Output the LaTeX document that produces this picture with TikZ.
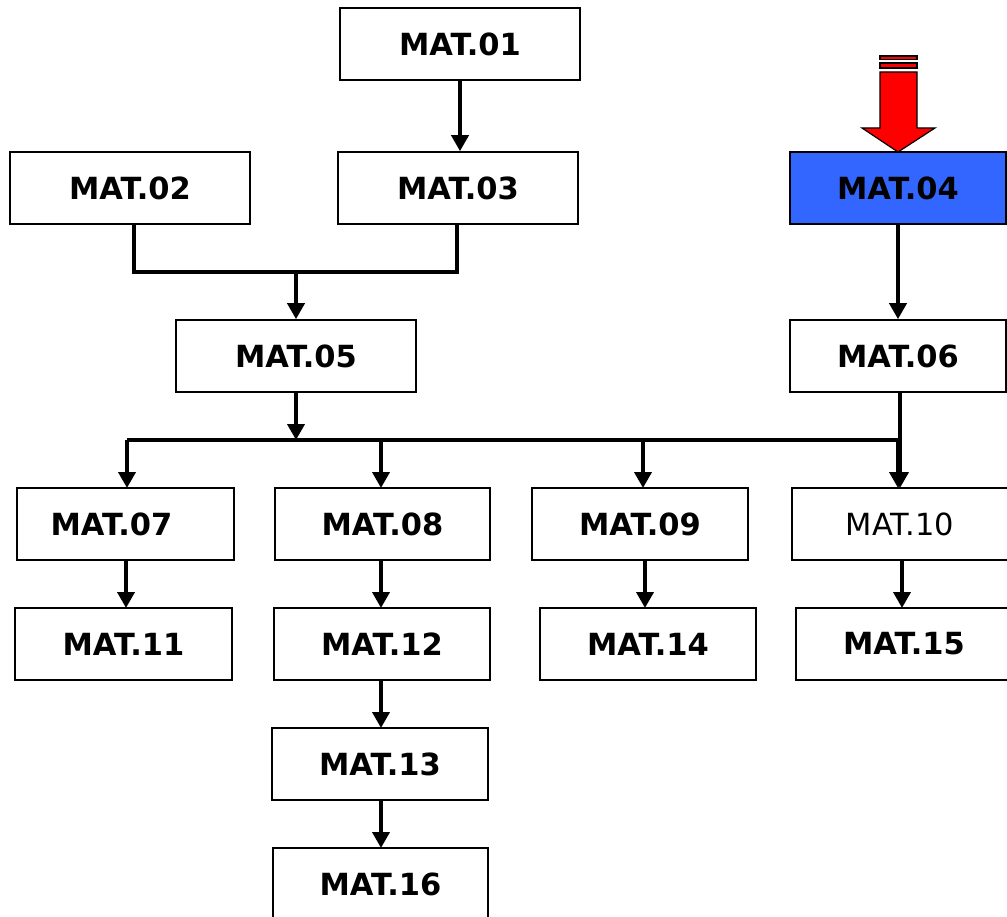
\documentclass[tikz,border=0pt]{standalone}
\usepackage{fontspec}
\setmainfont{DejaVu Sans}
\usetikzlibrary{arrows.meta}
\definecolor{boxblue}{HTML}{3366FF}
\begin{document}
\begin{tikzpicture}[x=1pt,y=-1pt,
  mbox/.style={draw, line width=1.6pt, minimum height=72pt, inner sep=0pt, font=\fontsize{30.5}{32}\selectfont\bfseries},
  conn/.style={line width=3.8pt},
  arr/.style={conn, -{Triangle[width=17pt,length=16pt]}},
  redarrow/.style={fill=red, draw=black, line width=1.2pt}]
\useasboundingbox (0,0) rectangle (1007,917);
\node[mbox, minimum width=240pt] (m01) at (460,44) {MAT.01};
\node[mbox, minimum width=240pt] (m02) at (130,188) {MAT.02};
\node[mbox, minimum width=240pt] (m03) at (458,188) {MAT.03};
\node[mbox, minimum width=216pt, fill=boxblue] (m04) at (898,188) {MAT.04};
\node[mbox, minimum width=240pt] (m05) at (296,356) {MAT.05};
\node[mbox, minimum width=216pt] (m06) at (898,356) {MAT.06};
\node[mbox, minimum width=217pt] (m07) at (125.5,524) {\hspace*{-28pt}MAT.07};
\node[mbox, minimum width=215pt] (m08) at (382.5,524) {MAT.08};
\node[mbox, minimum width=216pt] (m09) at (640,524) {MAT.09};
\node[mbox, minimum width=216pt, font=\fontsize{30.5}{32}\selectfont] (m10) at (900,524) {MAT.10};
\node[mbox, minimum width=217pt] (m11) at (123.5,644) {MAT.11};
\node[mbox, minimum width=216pt] (m12) at (382,644) {MAT.12};
\node[mbox, minimum width=216pt] (m14) at (648,644) {MAT.14};
\node[mbox, minimum width=216pt] (m15) at (904,644) {MAT.15};
\node[mbox, minimum width=216pt] (m13) at (380,764) {MAT.13};
\node[mbox, minimum width=215pt] (m16) at (380.5,884) {MAT.16};
% connectors
\coordinate (j1) at (296,272);
\coordinate (bus) at (296,440);
\draw[arr] (m01.south) -- (m01.south |- m03.north);
\draw[conn] (134,224) |- (j1) -| (457,224);
\draw[arr] (j1) -- (m05.north);
\draw[arr] (m05.south) -- (bus);
\draw[conn] (127,440) -- (898,440);
\draw[arr] (127,440) -- (127,488);
\draw[arr] (381,440) -- (381,488);
\draw[arr] (643,440) -- (643,488);
\draw[arr] (898,440) -- (898,488);
\draw[arr] (m04.south) -- (m06.north);
\draw[arr] (900,392) -- (900,488);
\draw[arr] (126,560) -- (126,608);
\draw[arr] (381,560) -- (381,608);
\draw[arr] (645,560) -- (645,608);
\draw[arr] (902,560) -- (902,608);
\draw[arr] (381,680) -- (381,728);
\draw[arr] (381,800) -- (381,848);
% red arrow
\draw[redarrow] (880,56) rectangle (917,59.5);
\draw[redarrow] (880,63) rectangle (917,68);
\draw[redarrow] (880,72) -- (917,72) -- (917,128) -- (935,128) -- (898,152) -- (862,128) -- (880,128) -- cycle;
\end{tikzpicture}
\end{document}
